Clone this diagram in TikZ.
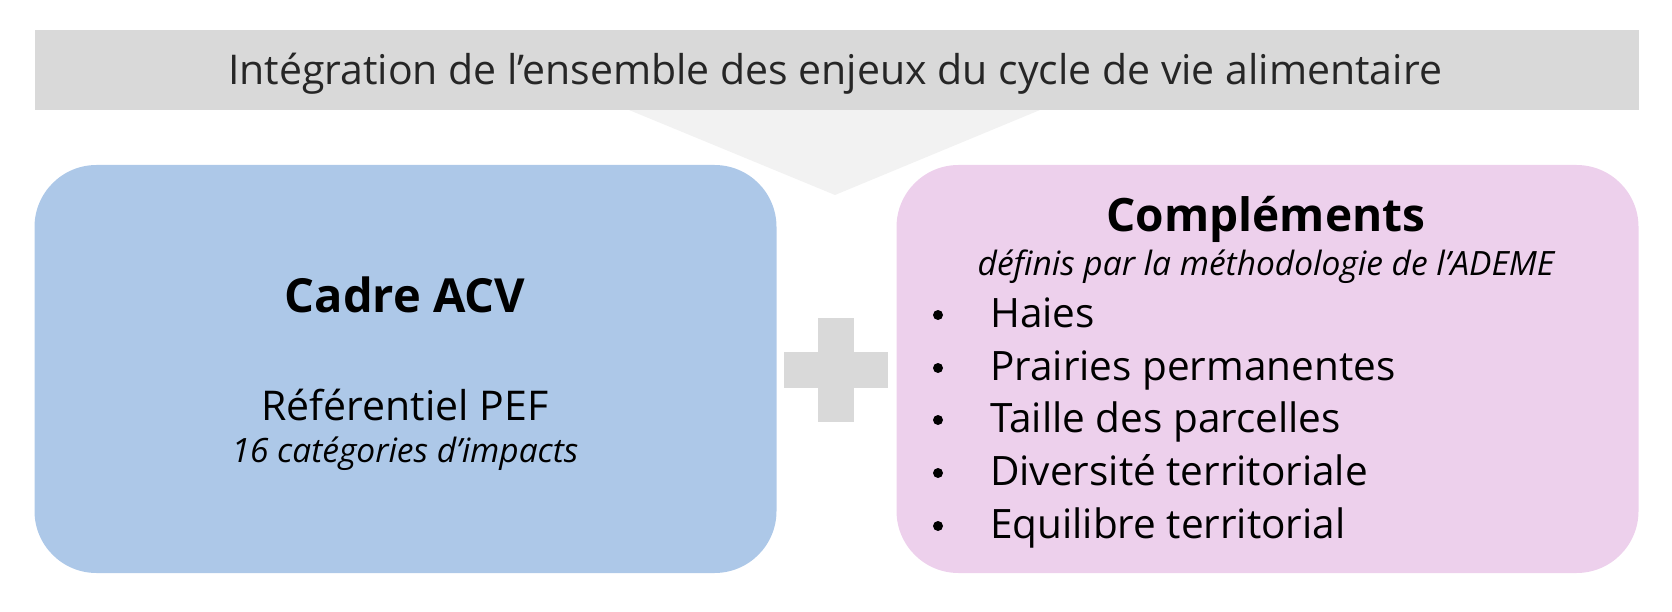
\documentclass[tikz,border=0pt]{standalone}
\usepackage{fontspec}
\setmainfont{Open Sans}
\definecolor{bandgray}{HTML}{D9D9D9}
\definecolor{funnelgray}{HTML}{F2F2F2}
\definecolor{acvblue}{HTML}{ADC8E8}
\definecolor{complpink}{HTML}{EDD0EC}
\tikzset{
  panel/.style={rounded corners=62pt, inner sep=0pt, minimum width=742pt, minimum height=408pt},
  txt/.style={inner sep=0pt, anchor=base},
}
\begin{document}
\begin{tikzpicture}[x=1pt,y=-1pt]
        \useasboundingbox (0,0) rectangle (1672,612);

		% bandeau et entonnoir
		\fill[funnelgray] (629,110) -- (1040,110) -- (835,195) -- cycle;
		\node[fill=bandgray, inner sep=0pt, minimum width=1604pt, minimum height=80pt] (band) at (837,70) {};
		\node[txt, font=\fontsize{41}{48}\selectfont, text=black!85] (bandtxt) at (835,85) {Intégration de l’ensemble des enjeux du cycle de vie alimentaire};

		% les deux cadres
		\node[panel, fill=acvblue] (acv) at (405.5,369) {};
		\node[panel, fill=complpink] (compl) at (1267.5,369) {};

		% signe plus
		\fill[bandgray] (784,352) rectangle (888,388);
		\fill[bandgray] (818,318) rectangle (854,422);

		% cadre ACV
		\node[txt, font=\fontsize{47}{52}\bfseries] (acvtitle) at (405,312) {Cadre ACV};
		\node[txt, font=\fontsize{41}{46}\selectfont] (pef) at (405,420) {Référentiel PEF};
		\node[txt, font=\fontsize{33.5}{38}\itshape] (pefcat) at (405,462) {16 catégories d’impacts};

		% complements
		\node[txt, font=\fontsize{46}{52}\bfseries] (compltitle) at (1266,232) {Compléments};
		\node[txt, font=\fontsize{33.5}{38}\itshape] (ademe) at (1266,276) {définis par la méthodologie de l’ADEME};
		\foreach \y / \item [count=\i] in {327/Haies, 380/Prairies permanentes, 432/Taille des parcelles, 485/Diversité territoriale, 538/Equilibre territorial} {
		\fill (938,\y-12) circle (5);
		\node[inner sep=0pt, anchor=base west, font=\fontsize{40.5}{46}\selectfont] (item-\i) at (990,\y) {\item};
		}

	\end{tikzpicture}
\end{document}
